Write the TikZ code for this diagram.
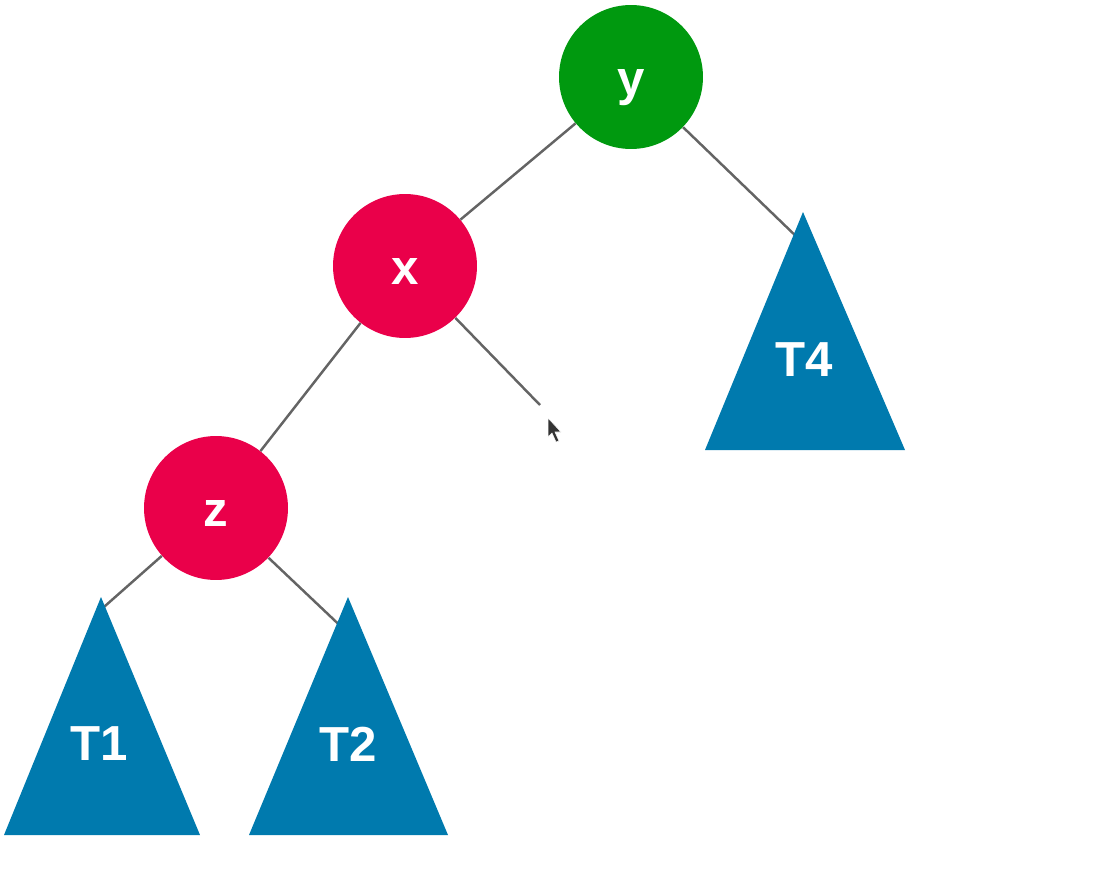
\documentclass[tikz,border=0pt]{standalone}
\usepackage{fontspec}
\setmainfont{Liberation Sans}
\begin{document}
\begin{tikzpicture}[
  x=0.02cm,
  y=-0.02cm,
  treenode/.style={circle, minimum size=2.88cm, inner sep=0pt, text=white, text height=21pt, text depth=0pt, font=\fontsize{28}{30}\selectfont\bfseries},
  subtree/.style={fill=subBlue},
  sublabel/.style={text=white, inner sep=0pt, font=\fontsize{28}{30}\selectfont\bfseries},
  edge/.style={draw=edgeGray, line width=1.4pt}
]

% Colors taken from the slide
\definecolor{nodeGreen}{RGB}{0,153,15}
\definecolor{nodeRed}{RGB}{234,0,74}
\definecolor{subBlue}{RGB}{0,122,174}
\definecolor{edgeGray}{RGB}{100,100,100}

\useasboundingbox (0,0) rectangle (1106,872);

% Tree nodes
\node[treenode, fill=nodeGreen] (y) at (631,77) {y};
\node[treenode, fill=nodeRed] (x) at (405,266) {x};
\node[treenode, fill=nodeRed] (z) at (216,508) {z};

% Points just inside the subtrees (the triangles hide the rest of the edge)
\coordinate (T4top) at (800,240);
\coordinate (T1top) at (96,614);
\coordinate (T2top) at (350,635);
\coordinate (xright) at (540,405);

% Edges
\draw[edge] (y) -- (x);
\draw[edge] (y) -- (T4top);
\draw[edge] (x) -- (z);
\draw[edge] (x) -- (xright);
\draw[edge] (z) -- (T1top);
\draw[edge] (z) -- (T2top);

% Subtrees
\fill[subtree] (803,212) -- (905,450) -- (705,450) -- cycle;
\node[sublabel] (T4) at (804,360) {T4};

\fill[subtree] (101,597) -- (200,835) -- (4,835) -- cycle;
\node[sublabel] (T1) at (99,744) {T1};

\fill[subtree] (348,597) -- (448,835) -- (249,835) -- cycle;
\node[sublabel] (T2) at (348,744) {T2};

% Mouse pointer left in the screenshot
\fill[black!80, draw=white, line width=0.3pt, shift={(548,418)}]
  (0,0) -- (0,19) -- (4,15) -- (8,24) -- (11,23) -- (7,14) -- (13,14) -- cycle;

\end{tikzpicture}
\end{document}
